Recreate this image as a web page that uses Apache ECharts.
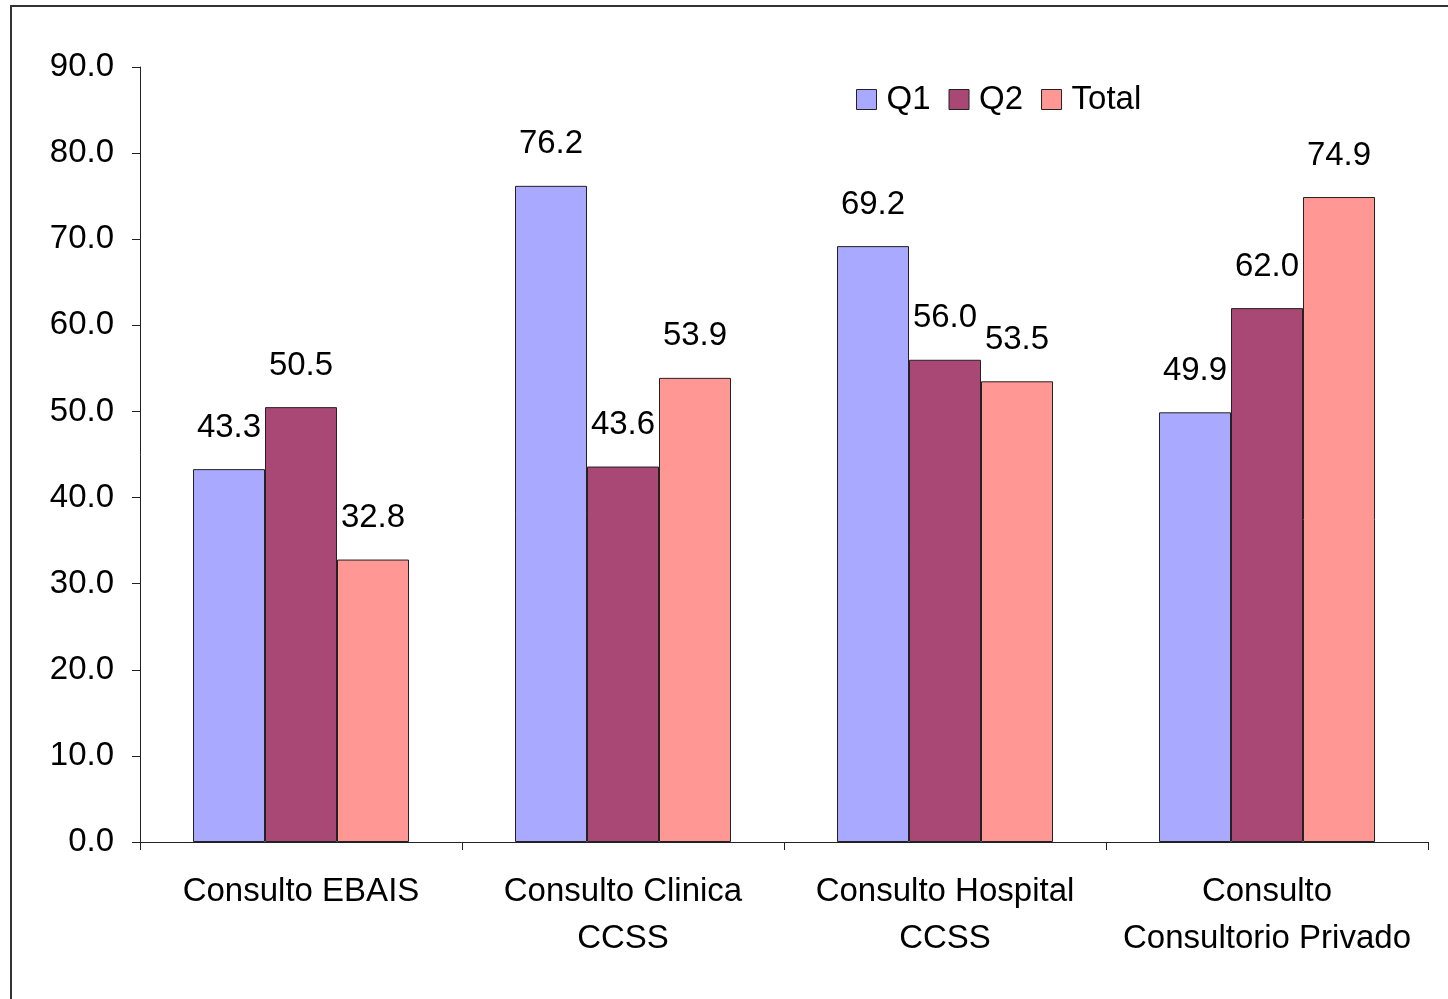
<!DOCTYPE html>
<html>
<head>
<meta charset="utf-8">
<title>Consultas por quintil</title>
<script src="https://cdn.jsdelivr.net/npm/echarts@6/dist/echarts.min.js"></script>
<style>
  html, body { margin: 0; padding: 0; background: #fff; }
  #chart { width: 1448px; height: 999px; }
</style>
</head>
<body>
<div id="chart"></div>
<script>
// Categories and series values
const categories = ['Consulto EBAIS', 'Consulto Clinica\nCCSS', 'Consulto Hospital\nCCSS', 'Consulto\nConsultorio Privado'];
const q1Values = [43.3, 76.2, 69.2, 49.9];
const q2Values = [50.5, 43.6, 56.0, 62.0];
const totalValues = [32.8, 53.9, 53.5, 74.9];
const seriesNames = ['Q1', 'Q2', 'Total'];
const seriesColors = ['#A9A9FF', '#A94874', '#FF9894'];

const FONT = 'Liberation Sans, Arial, sans-serif';
const FONT_SIZE = 33;

const chart = echarts.init(document.getElementById('chart'));

function barSeries(name, data, color) {
  return {
    name: name,
    type: 'bar',
    data: data,
    barWidth: 72,
    barGap: '0%',
    itemStyle: { color: color, borderColor: '#222', borderWidth: 1 },
    label: {
      show: true,
      position: 'top',
      distance: 25,
      fontFamily: FONT,
      fontSize: FONT_SIZE,
      color: '#000',
      formatter: p => p.value.toFixed(1)
    }
  };
}

chart.setOption({
  animation: false,
  backgroundColor: '#fff',
  graphic: [{
    type: 'rect',
    shape: { x: 11, y: 6, width: 1460, height: 1010 },
    style: { fill: 'none', stroke: '#333', lineWidth: 2 },
    silent: true
  }],
  legend: {
    left: 851,
    top: 78,
    itemWidth: 20,
    itemHeight: 20,
    itemGap: 18,
    icon: 'rect',
    textStyle: { fontFamily: FONT, fontSize: FONT_SIZE, color: '#000', padding: [0, 0, 0, 5] },
    itemStyle: { borderColor: '#222', borderWidth: 1 },
    data: seriesNames
  },
  grid: { left: 140, right: 20, top: 67, bottom: 157, containLabel: false },
  xAxis: {
    type: 'category',
    data: categories,
    axisLine: { lineStyle: { color: '#222', width: 1 } },
    axisTick: { show: true, length: 8, lineStyle: { color: '#222' } },
    axisLabel: {
      fontFamily: FONT, fontSize: FONT_SIZE, color: '#000',
      margin: 26, lineHeight: 47, interval: 0
    }
  },
  yAxis: {
    type: 'value',
    min: 0,
    max: 90,
    interval: 10,
    axisLine: { show: true, lineStyle: { color: '#222', width: 1 } },
    axisTick: { show: true, length: 8, lineStyle: { color: '#222' } },
    splitLine: { show: false },
    axisLabel: {
      fontFamily: FONT, fontSize: FONT_SIZE, color: '#000', margin: 26,
      formatter: v => v.toFixed(1)
    }
  },
  series: [
    barSeries(seriesNames[0], q1Values, seriesColors[0]),
    barSeries(seriesNames[1], q2Values, seriesColors[1]),
    barSeries(seriesNames[2], totalValues, seriesColors[2])
  ]
});
</script>
</body>
</html>
